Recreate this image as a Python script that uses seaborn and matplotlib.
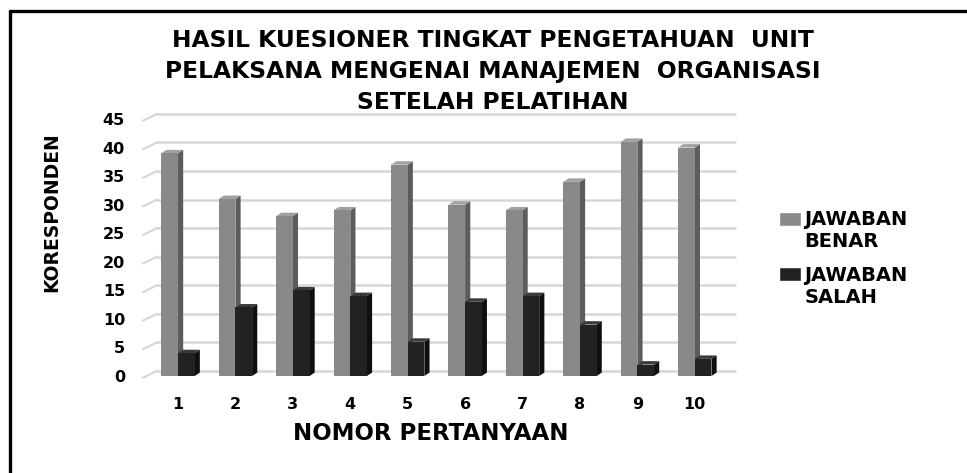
import numpy as np
import pandas as pd
import matplotlib
matplotlib.use('Agg')
import matplotlib.pyplot as plt
from matplotlib.lines import Line2D
from matplotlib.patches import Polygon, Patch
import seaborn as sns

# data
nomor = ['1', '2', '3', '4', '5', '6', '7', '8', '9', '10']
jawaban_benar = [39, 31, 28, 29, 37, 30, 29, 34, 41, 40]
jawaban_salah = [4, 12, 15, 14, 6, 13, 14, 9, 2, 3]
series = ['JAWABAN BENAR', 'JAWABAN SALAH']
legend_labels = ['JAWABAN\nBENAR', 'JAWABAN\nSALAH']
y_ticks = [0, 5, 10, 15, 20, 25, 30, 35, 40, 45]

title = ('HASIL KUESIONER TINGKAT PENGETAHUAN  UNIT\n'
         'PELAKSANA MENGENAI MANAJEMEN  ORGANISASI\n'
         'SETELAH PELATIHAN')

df = pd.DataFrame({
    'nomor': nomor * 2,
    'nilai': jawaban_benar + jawaban_salah,
    'jawaban': [series[0]] * len(nomor) + [series[1]] * len(nomor),
})

sns.set_style('white')
plt.rcParams['font.family'] = ['DejaVu Sans']
plt.rcParams['text.color'] = 'black'
plt.rcParams['axes.labelcolor'] = 'black'
plt.rcParams['xtick.color'] = 'black'
plt.rcParams['ytick.color'] = 'black'

face = ['#898989', '#222222']
side = ['#5c5c5c', '#0f0f0f']
top = ['#a0a0a0', '#3a3a3a']

fig = plt.figure(figsize=(9.67, 4.73), dpi=100)
ax = fig.add_axes([143 / 967, 1 - 376 / 473, 592 / 967, 257 / 473])

sns.barplot(data=df, x='nomor', y='nilai', hue='jawaban', palette=face,
            width=0.58, gap=0, saturation=1, ax=ax, legend=False,
            edgecolor='none', linewidth=0)

ax.set_xlim(-0.61, 9.70)
ax.set_ylim(0, 45)
ax.set_yticks(y_ticks)

# back wall gridlines with slanted floor part on the left
depth_y = 0.9
for v in y_ticks:
    ax.plot([-0.61, -0.365], [v - 0.3, v + depth_y], color='#d6d6d6', lw=1.5,
            clip_on=False, zorder=0.5)
    ax.plot([-0.365, 9.70], [v + depth_y, v + depth_y], color='#d6d6d6', lw=1.8,
            clip_on=False, zorder=0.5)

# fake 3d faces on every bar
dx, dy = 0.09, 0.6
for i, container in enumerate(ax.containers):
    for bar in container:
        x0 = bar.get_x()
        x1 = x0 + bar.get_width()
        h = bar.get_height()
        bar.set_zorder(2 + i)
        ax.add_patch(Polygon([(x1, 0), (x1 + dx, dy), (x1 + dx, h + dy), (x1, h)],
                             closed=True, facecolor=side[i], edgecolor='none',
                             zorder=1.9 + i))
        ax.add_patch(Polygon([(x0, h), (x0 + dx, h + dy), (x1 + dx, h + dy), (x1, h)],
                             closed=True, facecolor=top[i], edgecolor='none',
                             zorder=1.9 + i))

sns.despine(ax=ax, left=True, bottom=True)
ax.tick_params(axis='both', length=0, labelsize=11.5)
ax.tick_params(axis='y', pad=13)
ax.tick_params(axis='x', pad=15)
for lab in ax.get_xticklabels() + ax.get_yticklabels():
    lab.set_fontweight('bold')

ax.set_xlabel('NOMOR PERTANYAAN', fontsize=16.5, fontweight='bold')
ax.xaxis.set_label_coords((431 - 143) / 592, (376 - 422) / 257)
ax.set_ylabel('KORESPONDEN', fontsize=13.5, fontweight='bold')
ax.yaxis.set_label_coords((61 - 143) / 592, (376 - 212) / 257)

fig.suptitle(title, x=493 / 967, y=1 - 29 / 473, fontsize=16.8,
             fontweight='bold', linespacing=1.45, va='top')

handles = [Patch(facecolor=face[0]), Patch(facecolor=face[1])]
leg = ax.legend(handles, legend_labels, loc='upper left',
                bbox_to_anchor=(779 / 967, 1 - 210 / 473), bbox_transform=fig.transFigure,
                frameon=False, prop={'size': 14, 'weight': 'bold'},
                handlelength=1.15, handleheight=0.75, handletextpad=0.15,
                labelspacing=0.75, borderaxespad=0, borderpad=0)
# put the legend squares beside the first line of each label
for h in leg.legend_handles:
    h.set_y(h.get_y() + 9)

# frame border (only top and left edges are inside the picture)
fig.add_artist(Line2D([10 / 967, 1], [1 - 11 / 473, 1 - 11 / 473],
                      transform=fig.transFigure, color='black', lw=2.4))
fig.add_artist(Line2D([10 / 967, 10 / 967], [0, 1 - 11 / 473],
                      transform=fig.transFigure, color='black', lw=2.4))

fig.savefig('out.png', dpi=100, facecolor='white')
